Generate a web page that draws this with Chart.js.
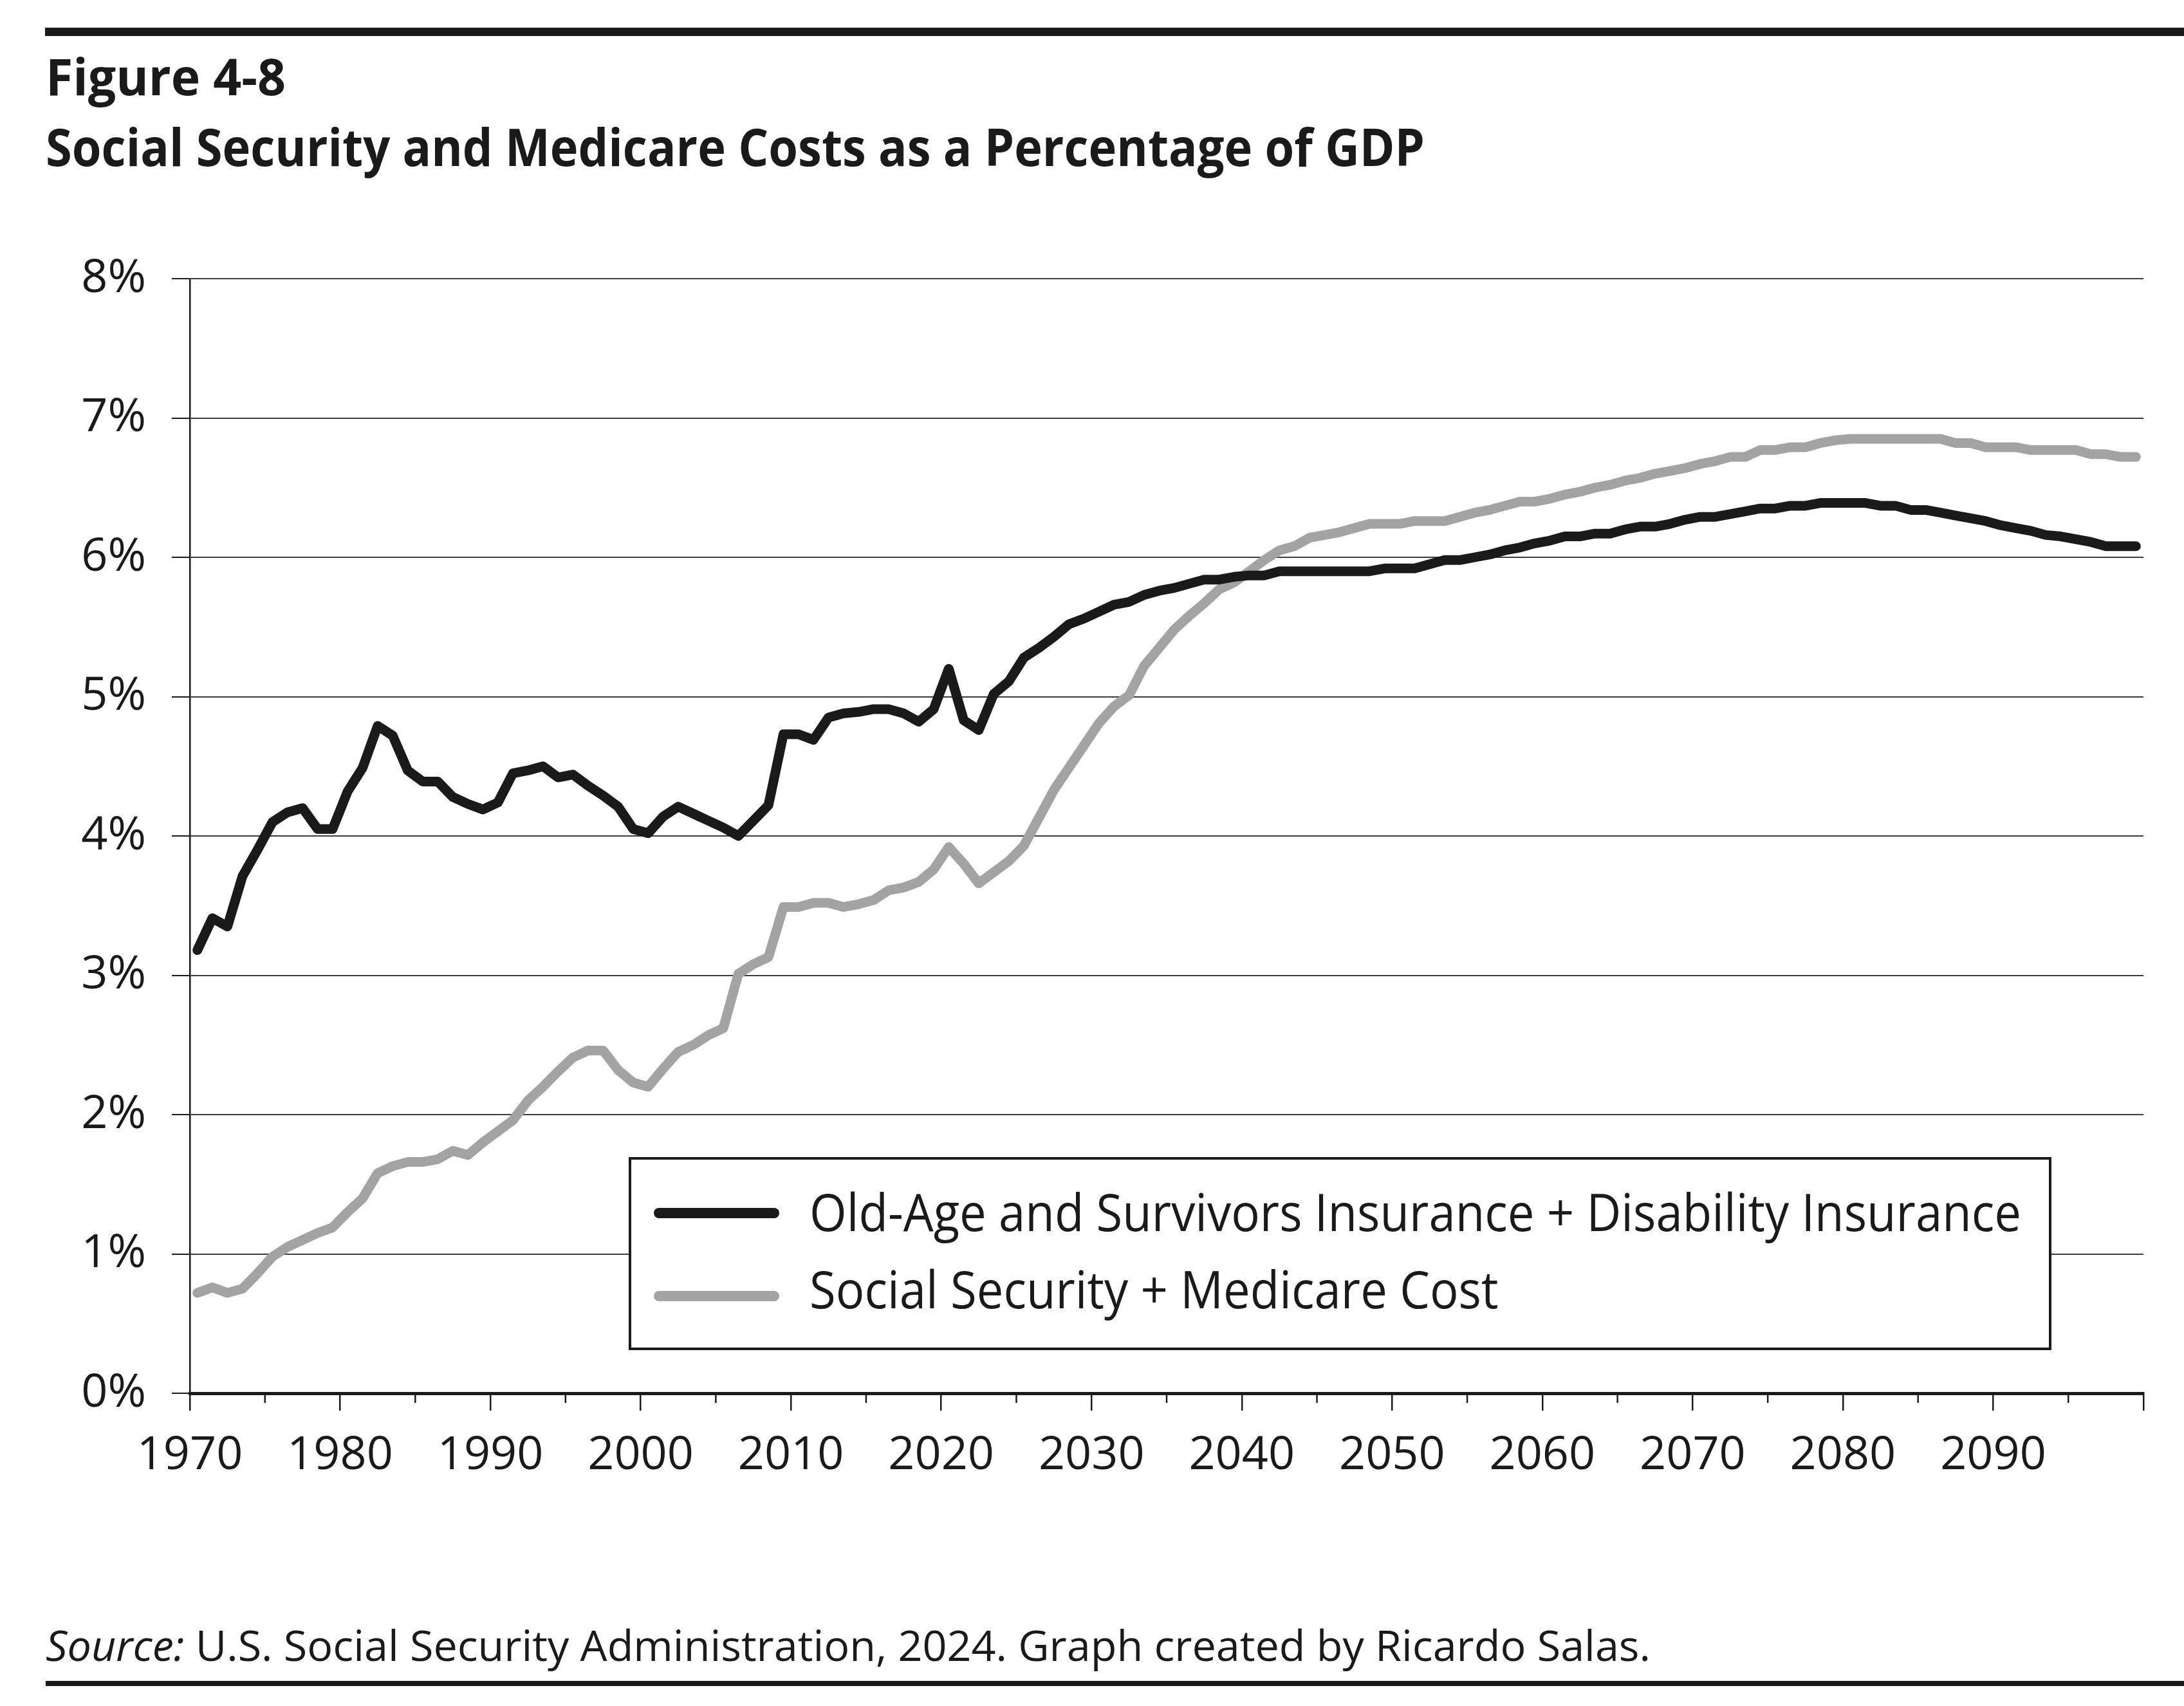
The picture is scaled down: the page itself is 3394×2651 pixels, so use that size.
<!DOCTYPE html>
<html>
<head>
<meta charset="utf-8">
<script src="https://cdn.jsdelivr.net/npm/chart.js@4.4.1/dist/chart.umd.min.js"></script>
<style>
  body { margin: 0; background: #fff; }
  #page { position: relative; width: 3394px; height: 2651px; overflow: hidden; background: #fff; }
  .rule { position: absolute; background: #1a1a1a; }
  .t { position: absolute; left: 71px; line-height: 1; white-space: nowrap; font-family: "Open Sans", sans-serif; color: #1a1a1a; transform-origin: 0 0; }
  canvas { position: absolute; left: 0; top: 0; }
</style>
</head>
<body>
<div id="page">
  <canvas id="chart" width="3394" height="2651"></canvas>
  <div class="rule" style="left:70px;top:43px;width:3324px;height:13px"></div>
  <div class="t" style="top:78px;font-size:79px;font-weight:700" data-w="373">Figure 4-8</div>
  <div class="t" style="top:187px;font-size:80px;font-weight:700" data-w="2143">Social Security and Medicare Costs as a Percentage of GDP</div>
  <div class="t" style="top:2522px;font-size:66px" data-w="2494"><i>Source:</i> U.S. Social Security Administration, 2024. Graph created by Ricardo Salas.</div>
  <div class="rule" style="left:71px;top:2612px;width:3323px;height:8px"></div>
</div>
<script>
// one value per year, 1970-2099 (percent of GDP)
const years = [];
for (let y = 1970; y <= 2099; y++) years.push(y);

const oasdi = [
  3.18, 3.41, 3.35, 3.71, 3.90, 4.10, 4.17, 4.20, 4.05, 4.05,
  4.32, 4.49, 4.79, 4.72, 4.47, 4.39, 4.39, 4.28, 4.23, 4.19,
  4.24, 4.45, 4.47, 4.50, 4.42, 4.44, 4.36, 4.29, 4.21, 4.05,
  4.02, 4.14, 4.21, 4.16, 4.11, 4.06, 4.00, 4.11, 4.22, 4.73,
  4.73, 4.69, 4.85, 4.88, 4.89, 4.91, 4.91, 4.88, 4.82, 4.91,
  5.20, 4.83, 4.76, 5.02, 5.11, 5.28, 5.35, 5.43, 5.52, 5.56,
  5.61, 5.66, 5.68, 5.73, 5.76, 5.78, 5.81, 5.84, 5.84, 5.86,
  5.87, 5.87, 5.90, 5.90, 5.90, 5.90, 5.90, 5.90, 5.90, 5.92,
  5.92, 5.92, 5.95, 5.98, 5.98, 6.00, 6.02, 6.05, 6.07, 6.10,
  6.12, 6.15, 6.15, 6.17, 6.17, 6.20, 6.22, 6.22, 6.24, 6.27,
  6.29, 6.29, 6.31, 6.33, 6.35, 6.35, 6.37, 6.37, 6.39, 6.39,
  6.39, 6.39, 6.37, 6.37, 6.34, 6.34, 6.32, 6.30, 6.28, 6.26,
  6.23, 6.21, 6.19, 6.16, 6.15, 6.13, 6.11, 6.08, 6.08, 6.08
];

const ssMedicare = [
  0.72, 0.76, 0.72, 0.75, 0.86, 0.98, 1.05, 1.10, 1.15, 1.19,
  1.30, 1.40, 1.58, 1.63, 1.66, 1.66, 1.68, 1.74, 1.71, 1.80,
  1.88, 1.96, 2.10, 2.20, 2.31, 2.41, 2.46, 2.46, 2.32, 2.23,
  2.20, 2.33, 2.45, 2.50, 2.57, 2.62, 3.01, 3.08, 3.13, 3.49,
  3.49, 3.52, 3.52, 3.49, 3.51, 3.54, 3.61, 3.63, 3.67, 3.76,
  3.92, 3.80, 3.66, 3.74, 3.82, 3.93, 4.13, 4.33, 4.49, 4.65,
  4.81, 4.93, 5.01, 5.22, 5.35, 5.48, 5.58, 5.67, 5.77, 5.82,
  5.90, 5.98, 6.05, 6.08, 6.14, 6.16, 6.18, 6.21, 6.24, 6.24,
  6.24, 6.26, 6.26, 6.26, 6.29, 6.32, 6.34, 6.37, 6.40, 6.40,
  6.42, 6.45, 6.47, 6.50, 6.52, 6.55, 6.57, 6.60, 6.62, 6.64,
  6.67, 6.69, 6.72, 6.72, 6.77, 6.77, 6.79, 6.79, 6.82, 6.84,
  6.85, 6.85, 6.85, 6.85, 6.85, 6.85, 6.85, 6.82, 6.82, 6.79,
  6.79, 6.79, 6.77, 6.77, 6.77, 6.77, 6.74, 6.74, 6.72, 6.72
];

const seriesNames = [
  'Old-Age and Survivors Insurance + Disability Insurance',
  'Social Security + Medicare Cost'
];

// squeeze the wide fallback font to the original text widths
document.querySelectorAll('.t').forEach(el => {
  const w = el.getBoundingClientRect().width;
  el.style.transform = 'scaleX(' + (el.dataset.w / w) + ')';
});

const ink = '#1a1a1a';
const tickFont = { family: 'Open Sans', size: 72 };

// minor ticks on the year axis plus the boxed legend inside the plot
const extras = {
  id: 'extras',
  afterDraw(chart) {
    const ctx = chart.ctx;
    const xs = chart.scales.x;
    const base = chart.chartArea.bottom;
    ctx.save();
    ctx.strokeStyle = ink;
    ctx.lineWidth = 2.5;
    for (let v = 1975; v < 2100; v += 10) {
      const px = xs.getPixelForValue(v);
      ctx.beginPath();
      ctx.moveTo(px, base);
      ctx.lineTo(px, base + 15);
      ctx.stroke();
    }

    ctx.fillStyle = '#fff';
    ctx.fillRect(979, 1800, 2207, 296);
    ctx.lineWidth = 4;
    ctx.strokeRect(979, 1800, 2207, 296);

    const lineY = [1885, 2014];
    const textY = [1913, 2033];
    ctx.font = '80px "Open Sans"';
    const widest = Math.max(...chart.data.datasets.map(d => ctx.measureText(d.label).width));
    const sx = 1883 / widest;
    chart.data.datasets.forEach((ds, i) => {
      ctx.strokeStyle = ds.borderColor;
      ctx.lineWidth = 16;
      ctx.lineCap = 'round';
      ctx.beginPath();
      ctx.moveTo(1024, lineY[i]);
      ctx.lineTo(1203, lineY[i]);
      ctx.stroke();
      ctx.save();
      ctx.translate(1258, textY[i]);
      ctx.scale(sx, 1);
      ctx.fillStyle = ink;
      ctx.textBaseline = 'alphabetic';
      ctx.fillText(ds.label, 0, 0);
      ctx.restore();
    });
    ctx.restore();
  }
};

// the source plots each year in the middle of its slot
const toPoints = vals => years.map((yr, i) => ({ x: yr + 0.5, y: vals[i] }));

new Chart(document.getElementById('chart'), {
  type: 'line',
  data: {
    datasets: [
      {
        label: seriesNames[0],
        data: toPoints(oasdi),
        borderColor: ink,
        borderWidth: 15
      },
      {
        label: seriesNames[1],
        data: toPoints(ssMedicare),
        borderColor: '#a3a3a3',
        borderWidth: 15
      }
    ]
  },
  options: {
    responsive: false,
    devicePixelRatio: 1,
    animation: false,
    layout: { padding: { top: 433, right: 63, left: 0, bottom: 0 } },
    elements: {
      point: { radius: 0 },
      line: { tension: 0, borderJoinStyle: 'round', borderCapStyle: 'round' }
    },
    plugins: {
      legend: { display: false },
      tooltip: { enabled: false }
    },
    scales: {
      x: {
        type: 'linear',
        min: 1970,
        max: 2100,
        afterFit: s => { s.height = 486; },
        border: { color: ink, width: 5 },
        grid: { drawOnChartArea: false, tickLength: 27, color: ink, lineWidth: 2.5 },
        ticks: {
          stepSize: 10,
          autoSkip: false,
          maxRotation: 0,
          padding: 27,
          color: ink,
          font: tickFont,
          callback: v => (v < 2100 ? String(v) : '')
        }
      },
      y: {
        min: 0,
        max: 8,
        afterFit: s => { s.width = 295; },
        border: { color: ink, width: 2.5 },
        grid: { color: '#3c3c3c', lineWidth: 2, tickLength: 28, tickColor: ink },
        ticks: {
          stepSize: 1,
          padding: 40,
          color: ink,
          font: tickFont,
          callback: v => v + '%'
        }
      }
    }
  },
  plugins: [extras]
});
</script>
</body>
</html>
